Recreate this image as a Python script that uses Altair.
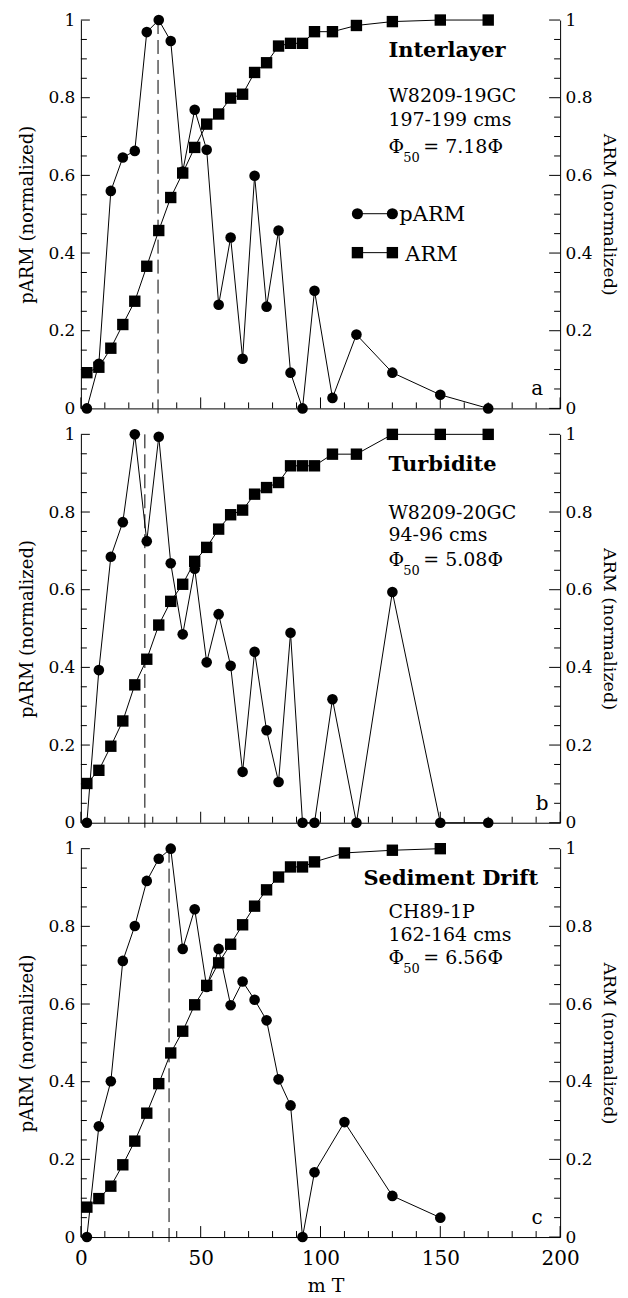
import altair as alt
import pandas as pd

FONT = "DejaVu Serif"
W, H = 480, 389

# ---------------- data ----------------
field_ab = [2.5, 7.5, 12.5, 17.5, 22.5, 27.5, 32.5, 37.5, 42.5, 47.5, 52.5, 57.5,
            62.5, 67.5, 72.5, 77.5, 82.5, 87.5, 92.5, 97.5, 105, 115, 130, 150, 170]
field_c = [2.5, 7.5, 12.5, 17.5, 22.5, 27.5, 32.5, 37.5, 42.5, 47.5, 52.5, 57.5,
           62.5, 67.5, 72.5, 77.5, 82.5, 87.5, 92.5, 97.5, 110, 130, 150]

parm_a = [0, 0.115, 0.56, 0.646, 0.663, 0.969, 1.0, 0.946, 0.61, 0.769, 0.666, 0.267,
          0.44, 0.128, 0.599, 0.262, 0.458, 0.092, 0, 0.303, 0.027, 0.19, 0.092, 0.035, 0]
arm_a = [0.092, 0.106, 0.155, 0.216, 0.276, 0.366, 0.458, 0.543, 0.606, 0.672, 0.732, 0.758,
         0.799, 0.809, 0.865, 0.890, 0.933, 0.94, 0.94, 0.97, 0.97, 0.986, 0.996, 1.0, 1.0]

parm_b = [0, 0.393, 0.685, 0.774, 1.0, 0.725, 0.994, 0.668, 0.485, 0.654, 0.413, 0.537,
          0.404, 0.131, 0.44, 0.238, 0.105, 0.489, 0, 0, 0.318, 0, 0.594, 0, 0]
arm_b = [0.101, 0.135, 0.197, 0.262, 0.355, 0.421, 0.509, 0.570, 0.614, 0.673, 0.709, 0.756,
         0.793, 0.805, 0.846, 0.863, 0.876, 0.919, 0.919, 0.919, 0.949, 0.949, 1.0, 1.0, 1.0]

parm_c = [0, 0.285, 0.401, 0.711, 0.801, 0.917, 0.974, 1.0, 0.742, 0.844, 0.644, 0.742,
          0.597, 0.658, 0.611, 0.558, 0.406, 0.339, 0, 0.167, 0.296, 0.106, 0.05]
arm_c = [0.077, 0.099, 0.131, 0.186, 0.247, 0.319, 0.395, 0.474, 0.530, 0.598, 0.648, 0.706,
         0.754, 0.804, 0.852, 0.894, 0.927, 0.953, 0.953, 0.966, 0.989, 0.996, 1.0]

median_field = [32.2, 26.7, 36.8]
panel_names = ["Interlayer", "Turbidite", "Sediment Drift"]
core_ids = ["W8209-19GC", "W8209-20GC", "CH89-1P"]
depths = ["197-199 cms", "94-96 cms", "162-164 cms"]
phi50 = ["7.18", "5.08", "6.56"]
letters = ["a", "b", "c"]
legend_labels = ["pARM", "ARM"]

x_major = [0, 50, 100, 150, 200]
x_minor = [10, 20, 30, 40, 60, 70, 80, 90, 110, 120, 130, 140, 160, 170, 180, 190]
y_major = [0, 0.2, 0.4, 0.6, 0.8, 1.0]
y_minor = [0.05, 0.1, 0.15, 0.25, 0.3, 0.35, 0.45, 0.5, 0.55, 0.65, 0.7, 0.75, 0.85, 0.9, 0.95]

# text layout per panel (plot-area pixels)
name_x = [308, 308, 283]
name_y = [37, 37, 36]
core_y = [82, 85, 69]
depth_y = [106, 107, 92]
phi_y = [133, 132, 116]
letter_x = [457, 462, 457]

xs = alt.Scale(domain=[0, 200], nice=False, zero=False)
ys = alt.Scale(domain=[0, 1], nice=False, zero=False)


def txt(s, x, y, size, weight="normal", align="left"):
    return alt.Chart(pd.DataFrame({"t": [s]})).mark_text(
        font=FONT, fontSize=size, fontWeight=weight, align=align,
        baseline="alphabetic", color="black"
    ).encode(x=alt.value(x), y=alt.value(y), text="t:N")


def panel(i, fields, parm, arm, last):
    df = pd.DataFrame({"field": fields, "parm": parm, "arm": arm})
    base = alt.Chart(df)

    if last:
        xaxis = alt.Axis(values=x_major, format="d", ticks=False, tickSize=0, grid=False,
                         labelFlush=False, labelFontSize=20, labelPadding=11,
                         title="m T", titleFontSize=19, titlePadding=9, titleX=245,
                         titleFontWeight="normal")
    else:
        xaxis = alt.Axis(values=x_major, ticks=False, tickSize=0, grid=False,
                         labels=False, title="")

    left_axis = alt.Axis(orient="left", values=y_major, format=".1~f", ticks=False, tickSize=0,
                         grid=False, labelFontSize=17, labelPadding=6,
                         title="pARM (normalized)", titleFontSize=18, titlePadding=11,
                         titleFontWeight="normal")
    right_axis = alt.Axis(orient="right", values=y_major, format=".1~f", ticks=False, tickSize=0,
                          grid=False, labelFontSize=17, labelPadding=5,
                          title="ARM (normalized)", titleFontSize=17.5, titlePadding=7,
                          titleFontWeight="normal")

    def X(f):
        return alt.X(f, scale=xs, axis=xaxis)

    def YL(f):
        return alt.Y(f, scale=ys, axis=left_axis)

    def YR(f):
        return alt.Y(f, scale=ys, axis=right_axis)

    def rules_x(vals, length):
        return alt.Chart(pd.DataFrame({"v": vals})).mark_rule(color="black", strokeWidth=1).encode(
            x=X("v:Q"), y=alt.value(H), y2=alt.value(H - length))

    def rules_y(vals, x0, x1, Y):
        return alt.Chart(pd.DataFrame({"v": vals})).mark_rule(color="black", strokeWidth=1).encode(
            y=Y("v:Q"), x=alt.value(x0), x2=alt.value(x1))

    parm_line = base.mark_line(color="black", strokeWidth=1).encode(x=X("field:Q"), y=YL("parm:Q"))
    parm_pts = base.mark_point(shape="circle", filled=True, size=113, color="black", opacity=1).encode(
        x=X("field:Q"), y=YL("parm:Q"))
    dashed = alt.Chart(pd.DataFrame({"m": [median_field[i]]})).mark_rule(
        color="black", strokeWidth=1, strokeDash=[14, 6]).encode(
        x=X("m:Q"), y=alt.value(0), y2=alt.value(H + 6))

    left_layers = [
        parm_line, parm_pts, dashed,
        rules_x(x_major, 11), rules_x(x_minor, 6),
        rules_y(y_major, 0, 9, YL), rules_y(y_minor, 0, 6, YL),
        txt(panel_names[i], name_x[i], name_y[i], 21, "bold"),
        txt(core_ids[i], 308, core_y[i], 19),
        txt(depths[i], 308, depth_y[i], 19),
        txt("\u03a6", 308, phi_y[i], 19),
        txt("50", 323, phi_y[i] + 9, 13),
        txt("= " + phi50[i] + "\u03a6", 343, phi_y[i], 19),
        txt(letters[i], letter_x[i], 376, 20, align="center"),
    ]

    if i == 0:
        lg = pd.DataFrame({"t": [legend_labels[0]]})
        lg2 = pd.DataFrame({"t": [legend_labels[1]]})
        left_layers += [
            alt.Chart(lg).mark_rule(color="black", strokeWidth=1).encode(
                x=alt.value(277), x2=alt.value(312), y=alt.value(194)),
            alt.Chart(lg).mark_point(shape="circle", filled=True, size=125, color="black", opacity=1).encode(
                x=alt.value(277), y=alt.value(194)),
            alt.Chart(lg).mark_point(shape="circle", filled=True, size=125, color="black", opacity=1).encode(
                x=alt.value(312), y=alt.value(194)),
            txt(legend_labels[0], 319, 201, 21),
            alt.Chart(lg2).mark_rule(color="black", strokeWidth=1).encode(
                x=alt.value(277), x2=alt.value(312), y=alt.value(233)),
            alt.Chart(lg2).mark_point(shape="square", filled=True, size=130, color="black", opacity=1).encode(
                x=alt.value(277), y=alt.value(233)),
            alt.Chart(lg2).mark_point(shape="square", filled=True, size=130, color="black", opacity=1).encode(
                x=alt.value(312), y=alt.value(233)),
            txt(legend_labels[1], 325, 241, 21),
        ]

    left = alt.layer(*left_layers)

    arm_line = base.mark_line(color="black", strokeWidth=1).encode(x=X("field:Q"), y=YR("arm:Q"))
    arm_pts = base.mark_point(shape="square", filled=True, size=130, color="black", opacity=1).encode(
        x=X("field:Q"), y=YR("arm:Q"))
    right = alt.layer(arm_line, arm_pts,
                      rules_y(y_major, W, W - 11, YR), rules_y(y_minor, W, W - 6, YR))

    return alt.layer(left, right).resolve_scale(y="independent").properties(width=W, height=H)


chart = alt.vconcat(
    panel(0, field_ab, parm_a, arm_a, False),
    panel(1, field_ab, parm_b, arm_b, False),
    panel(2, field_c, parm_c, arm_c, True),
    spacing=26, bounds="flush",
).properties(
    padding={"left": 10, "top": 2, "right": 2, "bottom": 2}
).configure_view(strokeWidth=0).configure_axis(
    labelFont=FONT, titleFont=FONT, labelColor="black", titleColor="black",
    domainColor="black", domainWidth=1
)

chart.save("out.html", embed_options={"renderer": "svg", "actions": False})
